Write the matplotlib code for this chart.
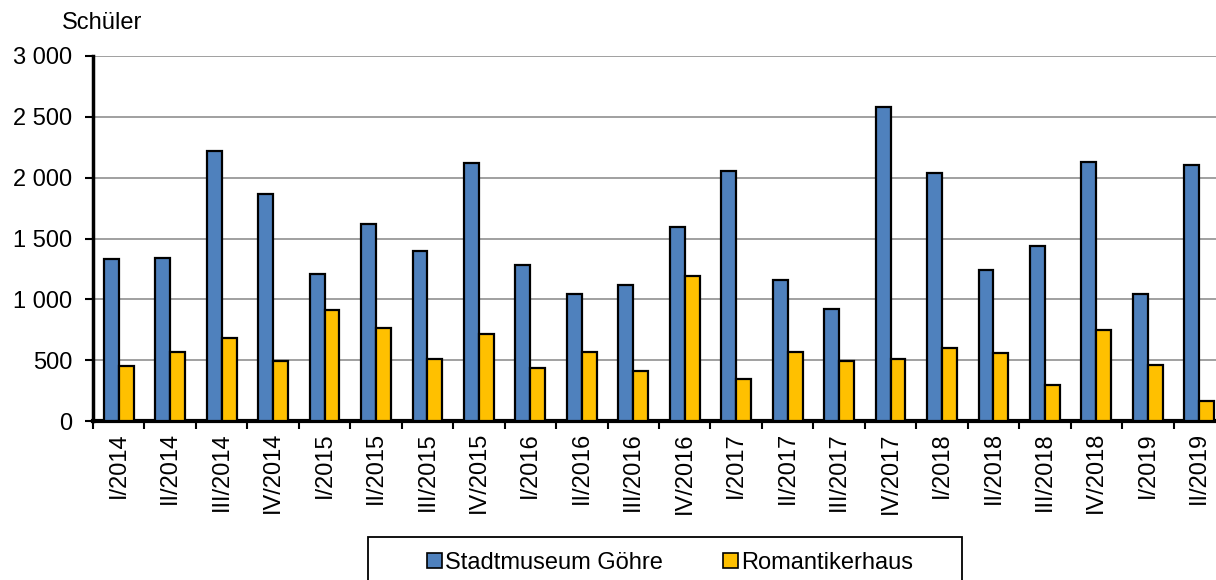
import matplotlib.pyplot as plt
import numpy as np
from matplotlib.ticker import FuncFormatter, FixedLocator
from matplotlib.patches import Rectangle

plt.rcParams['font.family'] = ['Liberation Sans', 'DejaVu Sans']

quartale = ['I/2014', 'II/2014', 'III/2014', 'IV/2014',
            'I/2015', 'II/2015', 'III/2015', 'IV/2015',
            'I/2016', 'II/2016', 'III/2016', 'IV/2016',
            'I/2017', 'II/2017', 'III/2017', 'IV/2017',
            'I/2018', 'II/2018', 'III/2018', 'IV/2018',
            'I/2019', 'II/2019']
stadtmuseum = [1332, 1343, 2217, 1862, 1211, 1623, 1401, 2121,
               1286, 1044, 1118, 1591, 2052, 1162, 917, 2579,
               2041, 1242, 1439, 2132, 1047, 2104]
romantikerhaus = [456, 569, 684, 497, 915, 766, 508, 714,
                  434, 569, 409, 1192, 349, 571, 494, 511,
                  604, 560, 297, 744, 464, 162]

W, H = 1216, 580
fig = plt.figure(figsize=(W / 100, H / 100), dpi=100)
# Achse reicht rechts etwas über den Bildrand hinaus
ax = fig.add_axes([93 / W, (H - 421) / H, (1225 - 93) / W, 365 / H])

x = np.arange(len(quartale))
bw = 0.29
ax.bar(x - bw / 2, stadtmuseum, bw, color='#4F81BD', edgecolor='black',
       linewidth=1.6, label='Stadtmuseum Göhre', zorder=3)
ax.bar(x + bw / 2, romantikerhaus, bw, color='#FFC000', edgecolor='black',
       linewidth=1.6, label='Romantikerhaus', zorder=3)

ax.set_xlim(-0.5, len(quartale) - 0.5)
ax.set_ylim(0, 3000)
ax.set_yticks(np.arange(0, 3001, 500))
ax.yaxis.set_major_formatter(FuncFormatter(lambda v, p: f'{int(v):,}'.replace(',', ' ')))
ax.grid(axis='y', color='#999999', linewidth=1.3, zorder=0)

# Striche an den Kategoriegrenzen, Beschriftung in der Mitte
ax.xaxis.set_major_locator(FixedLocator(np.arange(-0.5, len(quartale), 1.0)))
ax.xaxis.set_minor_locator(FixedLocator(x))
ax.set_xticklabels([])
ax.set_xticklabels(quartale, minor=True, rotation=90)
ax.tick_params(axis='x', which='major', length=6, width=1.5, direction='out')
ax.tick_params(axis='x', which='minor', length=0, pad=8, labelsize=17)
ax.tick_params(axis='y', length=6, width=1.5, direction='out', pad=9, labelsize=17)

for s in ['top', 'right']:
    ax.spines[s].set_visible(False)
ax.spines['left'].set_linewidth(2.5)
ax.spines['bottom'].set_linewidth(3)

fig.text(62 / W, 1 - 23 / H, 'Schüler', fontsize=17, va='center', ha='left')

# Legendenrahmen, unten vom Bildrand abgeschnitten
fig.add_artist(Rectangle((368 / W, -0.02), (962 - 368) / W, 0.02 + (H - 537) / H,
                         transform=fig.transFigure, fill=False,
                         edgecolor='black', linewidth=1.3))
leg = fig.legend(loc='center left', bbox_to_anchor=(427 / W, 1 - 563 / H),
                 ncol=2, fontsize=17, frameon=False,
                 handlelength=0.62, handleheight=0.62,
                 handletextpad=0.15, columnspacing=2.55, borderpad=0,
                 borderaxespad=0)
for r in leg.get_patches():
    r.set_linewidth(1.2)

fig.savefig('out.png', dpi=100)
